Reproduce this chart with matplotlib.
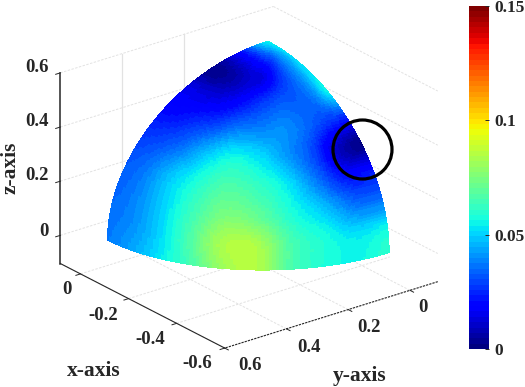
import numpy as np
import matplotlib
matplotlib.use("Agg")
import matplotlib.pyplot as plt
from matplotlib.patches import Circle
from matplotlib.cm import ScalarMappable
from matplotlib.colors import Normalize

plt.rcParams['font.family'] = ['Liberation Serif', 'DejaVu Sans']
plt.rcParams['font.weight'] = 'bold'
plt.rcParams['font.size'] = 12

text_color = '#262626'

# values, rows are polar angle 0..90, columns azimuth 0..90
polar_deg = [0, 10, 20, 30, 40, 50, 60, 70, 80, 90]
azimuth_deg = [0, 10, 20, 30, 40, 50, 60, 70, 80, 90]
row_00 = [.055, .055, .055, .055, .055, .055, .055, .055, .055, .055]
row_10 = [.052, .045, .039, .032, .028, .025, .022, .021, .020, .020]
row_20 = [.053, .042, .033, .024, .014, .012, .008, .005, .003, .003]
row_30 = [.054, .038, .033, .032, .027, .020, .015, .013, .014, .015]
row_40 = [.025, .028, .035, .040, .038, .036, .029, .025, .021, .020]
row_50 = [.002, .010, .030, .042, .052, .055, .047, .036, .030, .027]
row_60 = [.022, .022, .037, .053, .062, .066, .058, .048, .037, .032]
row_70 = [.036, .038, .050, .059, .071, .074, .063, .050, .039, .034]
row_80 = [.056, .053, .058, .066, .084, .083, .066, .050, .040, .036]
row_90 = [.060, .056, .058, .066, .085, .080, .064, .052, .043, .037]

# patch of an ellipsoid, semi axes and centre
semi_x, semi_y, semi_z = 0.505, 0.519, 0.55
centre_x, centre_z = -0.0084, -0.004

x_ticks = [0, -0.2, -0.4, -0.6]
y_ticks = [0.6, 0.4, 0.2, 0]
z_ticks = [0, 0.2, 0.4, 0.6]
x_labels = ['0', '-0.2', '-0.4', '-0.6']
y_labels = ['0.6', '0.4', '0.2', '0']
z_labels = ['0', '0.2', '0.4', '0.6']
cbar_ticks = [0, 0.05, 0.1, 0.15]
cbar_labels = ['0', '0.05', '0.1', '0.15']

x_lim = (-0.6, 0.084)
y_lim = (-0.09, 0.6)
z_lim = (-0.104, 0.6)


# Catmull-Rom along the first axis, only to shade between the read values
def refine(table, n):
    pos = np.linspace(0, table.shape[0] - 1, n)
    i = np.clip(pos.astype(int), 0, table.shape[0] - 2)
    t = (pos - i)[:, None]
    p0 = table[np.clip(i - 1, 0, None)]
    p1 = table[i]
    p2 = table[i + 1]
    p3 = table[np.clip(i + 2, None, table.shape[0] - 1)]
    return 0.5 * (2 * p1 + (p2 - p0) * t + (2 * p0 - 5 * p1 + 4 * p2 - p3) * t**2
                  + (3 * p1 - p0 - 3 * p2 + p3) * t**3)


values = np.array([row_00, row_10, row_20, row_30, row_40,
                   row_50, row_60, row_70, row_80, row_90])
fine = refine(refine(values, 91).T, 91).T
fine = np.clip(fine, 0, 0.15)

polar = np.radians(np.linspace(polar_deg[0], polar_deg[-1], 91))
azim = np.radians(np.linspace(azimuth_deg[0], azimuth_deg[-1], 91))
P, A = np.meshgrid(polar, azim, indexing='ij')
X = centre_x - semi_x * np.sin(P) * np.cos(A)
Y = semi_y * np.sin(P) * np.sin(A)
Z = centre_z + semi_z * np.cos(P)

fig = plt.figure(figsize=(5.25, 3.87), dpi=100)
ax = fig.add_axes([33.0 / 525, -6.3 / 387, 420.7 / 525, 420.7 / 387], projection='3d')
ax.set_proj_type('ortho')
ax.view_init(elev=23.6, azim=142.1)
ax.set_xlim(*x_lim)
ax.set_ylim(*y_lim)
ax.set_zlim(*z_lim)
ax.set_box_aspect((0.684 * 386.6, 0.69 * 386.6, 0.704 * 292))
ax.set_axis_off()
ax.patch.set_visible(False)
ax.computed_zorder = False

cmap = plt.get_cmap('jet', 64)
norm = Normalize(0, 0.15)

grid_col = '#e2e2e2'
grid_kw = dict(color=grid_col, lw=0.7, ls=(0, (2.5, 1.5)), zorder=1)

# grid on the two back walls and the floor
for z in z_ticks:
    ax.plot([x_lim[1], x_lim[1]], [y_lim[1], y_lim[0]], [z, z], **grid_kw)
    ax.plot([x_lim[1], x_lim[0]], [y_lim[0], y_lim[0]], [z, z], **grid_kw)
for y in y_ticks[1:3]:
    ax.plot([x_lim[1], x_lim[1]], [y, y], [z_lim[0], z_ticks[-1]], color=grid_col, lw=0.9, zorder=1)
for x in x_ticks:
    ax.plot([x, x], [y_lim[1], y_lim[0]], [z_lim[0], z_lim[0]], **grid_kw)
for y in y_ticks:
    ax.plot([x_lim[0], x_lim[1]], [y, y], [z_lim[0], z_lim[0]], **grid_kw)

ax.plot_surface(X, Y, Z, facecolors=cmap(norm(fine)), rcount=91, ccount=91,
                shade=False, linewidth=0, antialiased=False, zorder=2)

# axis lines
ax.plot([x_lim[1], x_lim[1]], [y_lim[1], y_lim[1]], z_lim, color=text_color, lw=1.1, zorder=3)
ax.plot(x_lim, [y_lim[1], y_lim[1]], [z_lim[0], z_lim[0]], color=text_color, lw=0.8, zorder=3)
ax.plot([x_lim[0], x_lim[0]], y_lim, [z_lim[0], z_lim[0]], color=text_color, lw=0.8,
        ls=(0, (2, 1)), zorder=3)
for x in x_ticks:
    ax.plot([x, x], [y_lim[1], y_lim[1] + 0.015], [z_lim[0], z_lim[0]], color=text_color, lw=0.7, zorder=3)
for y in y_ticks:
    ax.plot([x_lim[0], x_lim[0] - 0.015], [y, y], [z_lim[0], z_lim[0]], color=text_color, lw=0.7, zorder=3)
for z in z_ticks:
    ax.plot([x_lim[1], x_lim[1]], [y_lim[1], y_lim[1] + 0.015], [z, z], color=text_color, lw=0.7, zorder=3)

# overlay in pixels for the circle and the text
over = fig.add_axes([0, 0, 1, 1], zorder=5)
over.set_xlim(0, 525)
over.set_ylim(387, 0)
over.axis('off')
over.add_patch(Circle((362.5, 149.5), 29.5, fill=False, ec='black', lw=2.3))

txt = dict(color=text_color, fontweight='bold', fontsize=13.5)
lab_txt = dict(color=text_color, fontweight='bold', fontsize=15.5)
for lab, yp in zip(z_labels, [231, 176, 122, 68]):
    over.text(49, yp, lab, ha='right', va='center', **txt)
for lab, xp, yp in zip(x_labels, [67, 103, 150, 197], [289, 315, 339, 364]):
    over.text(xp, yp, lab, ha='center', va='center', **txt)
for lab, xp, yp in zip(y_labels, [250, 309, 369, 423], [365, 347, 328, 308]):
    over.text(xp, yp, lab, ha='center', va='center', **txt)
over.text(94, 371, 'x-axis', ha='center', va='center', **lab_txt)
over.text(360, 376, 'y-axis', ha='center', va='center', **lab_txt)
over.text(11, 168, 'z-axis', ha='center', va='center', rotation=90, **lab_txt)

cax = fig.add_axes([469 / 525, 1 - 349 / 387, 20 / 525, 343 / 387])
cb = fig.colorbar(ScalarMappable(norm=norm, cmap=cmap), cax=cax, ticks=cbar_ticks)
cb.ax.set_yticklabels(cbar_labels, color=text_color, fontweight='bold', fontsize=12.5)
cb.ax.tick_params(direction='in', length=3, width=0.7, pad=4, color=text_color)
cb.ax.get_yaxis().majorTicks[1].tick1line.set_visible(False)
cb.outline.set_visible(False)

fig.savefig('out.png', dpi=100)
